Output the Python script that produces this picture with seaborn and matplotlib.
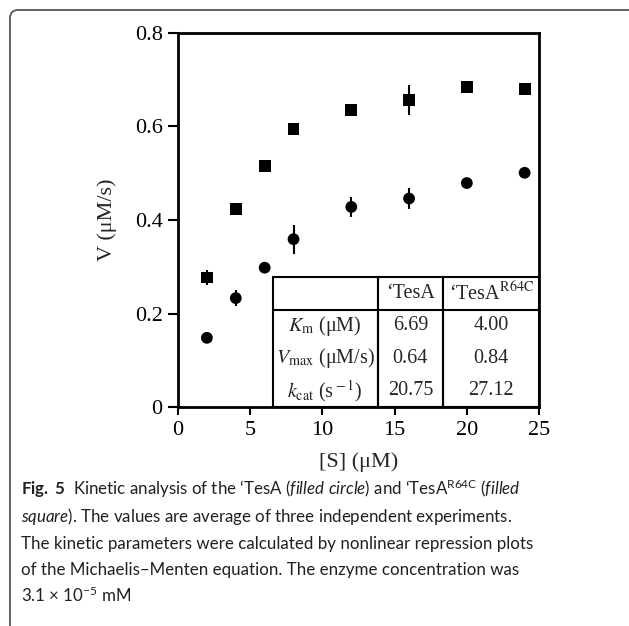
import numpy as np
import pandas as pd
import matplotlib
matplotlib.use("Agg")
import matplotlib.pyplot as plt
from matplotlib.patches import FancyBboxPatch
import seaborn as sns

# Daten
substrate = [2, 4, 6, 8, 12, 16, 20, 24]
v_tesa = [0.148, 0.233, 0.298, 0.359, 0.428, 0.446, 0.479, 0.501]
err_tesa = [0.004, 0.017, 0.004, 0.031, 0.022, 0.022, 0.008, 0.004]
v_r64c = [0.277, 0.423, 0.516, 0.594, 0.635, 0.657, 0.685, 0.680]
err_r64c = [0.017, 0.004, 0.004, 0.010, 0.008, 0.032, 0.004, 0.004]

x_ticks = [0, 5, 10, 15, 20, 25]
y_ticks = [0, 0.2, 0.4, 0.6, 0.8]
y_tick_labels = ["0", "0.2", "0.4", "0.6", "0.8"]

table_cols = ["", "\u2018TesA", "\u2018TesA" + r"$^{\rm R64C}$"]
table_rows = [r"$K_{\rm m}$ (μM)", r"$V_{\rm max}$ (μM/s)", r"$k_{\rm cat}$ (s$^{\rm -1}$)"]
table_tesa = ["6.69", "0.64", "20.75"]
table_r64c = ["4.00", "0.84", "27.12"]

caption_lines = [
    r"$\mathbf{Fig.\ 5}$  Kinetic analysis of the ‘TesA ($\mathit{filled\ circle}$) and ‘TesA$^{\mathrm{R64C}}$ ($\mathit{filled}$",
    r"$\mathit{square}$). The values are average of three independent experiments.",
    "The kinetic parameters were calculated by nonlinear repression plots",
    "of the Michaelis–Menten equation. The enzyme concentration was",
    r"3.1 × 10$^{-5}$ mM",
]

df = pd.concat([
    pd.DataFrame({"S": substrate, "V": v_tesa, "err": err_tesa, "enzyme": "TesA"}),
    pd.DataFrame({"S": substrate, "V": v_r64c, "err": err_r64c, "enzyme": "R64C"}),
])

sns.set_style("ticks")
plt.rcParams["font.family"] = ["Liberation Serif", "DejaVu Serif"]
plt.rcParams["mathtext.fontset"] = "stix"
plt.rcParams["mathtext.rm"] = "Lato"
plt.rcParams["mathtext.it"] = "Lato:italic"
plt.rcParams["mathtext.bf"] = "Lato:bold"

fig = plt.figure(figsize=(6.29, 6.26), dpi=100)
ax = fig.add_axes([0.283, 0.3498, 0.574, 0.5975])

for name, grp in df.groupby("enzyme"):
    ax.errorbar(grp["S"], grp["V"], yerr=grp["err"], fmt="none",
                ecolor="black", elinewidth=1.5, capsize=0, zorder=2)

sns.scatterplot(data=df, x="S", y="V", style="enzyme",
                markers={"TesA": "o", "R64C": "s"}, color="black",
                s=72, edgecolor="black", linewidth=0, legend=False, ax=ax, zorder=3)

ax.set_xlim(0, 25)
ax.set_ylim(0, 0.8)
ax.set_xticks(x_ticks)
ax.set_yticks(y_ticks)
ax.set_yticklabels(y_tick_labels)
ax.tick_params(direction="out", width=1.5, labelsize=16, colors="black",
               top=False, right=False)
ax.tick_params(axis="y", length=7, pad=4)
ax.tick_params(axis="x", length=6, pad=4)
for sp in ax.spines.values():
    sp.set_linewidth(2)
    sp.set_color("black")
ax.set_xlabel("[S] (μM)", fontsize=16, labelpad=9)
ax.set_ylabel("V (μM/s)", fontsize=16, labelpad=13)

# Tabelle mit Kinetikparametern
cell_text = [table_cols] + [[r, a, b] for r, a, b in zip(table_rows, table_tesa, table_r64c)]
tab = ax.table(cellText=cell_text, cellLoc="center",
               colWidths=[0.395, 0.248, 0.361],
               bbox=[0.2624, 0.0, 0.7376, 0.3467], zorder=4)
tab.auto_set_font_size(False)
tab.set_fontsize(14.5)
n_rows = len(cell_text)
for (r, c), cell in tab.get_celld().items():
    cell.set_linewidth(1.5)
    cell.set_edgecolor("black")
    cell.set_facecolor("white")
    if r == 0:
        cell.visible_edges = "closed"
    elif r == n_rows - 1:
        cell.visible_edges = "BLR"
    else:
        cell.visible_edges = "LR"

# Bildunterschrift
y0 = 1 - 495 / 626
for i, line in enumerate(caption_lines):
    fig.text(21 / 629, y0 - i * 26.8 / 626, line, fontsize=12.2, family="Lato",
             math_fontfamily="custom", va="baseline", ha="left", color="#231f20")

# Rahmen
frame = FancyBboxPatch((10 / 629, -0.2), 1.0, 1.184,
                       boxstyle="round,pad=0,rounding_size=0.013",
                       transform=fig.transFigure, fill=False,
                       edgecolor="#555555", linewidth=1.3)
fig.patches.append(frame)

fig.savefig("out.png", dpi=100)
